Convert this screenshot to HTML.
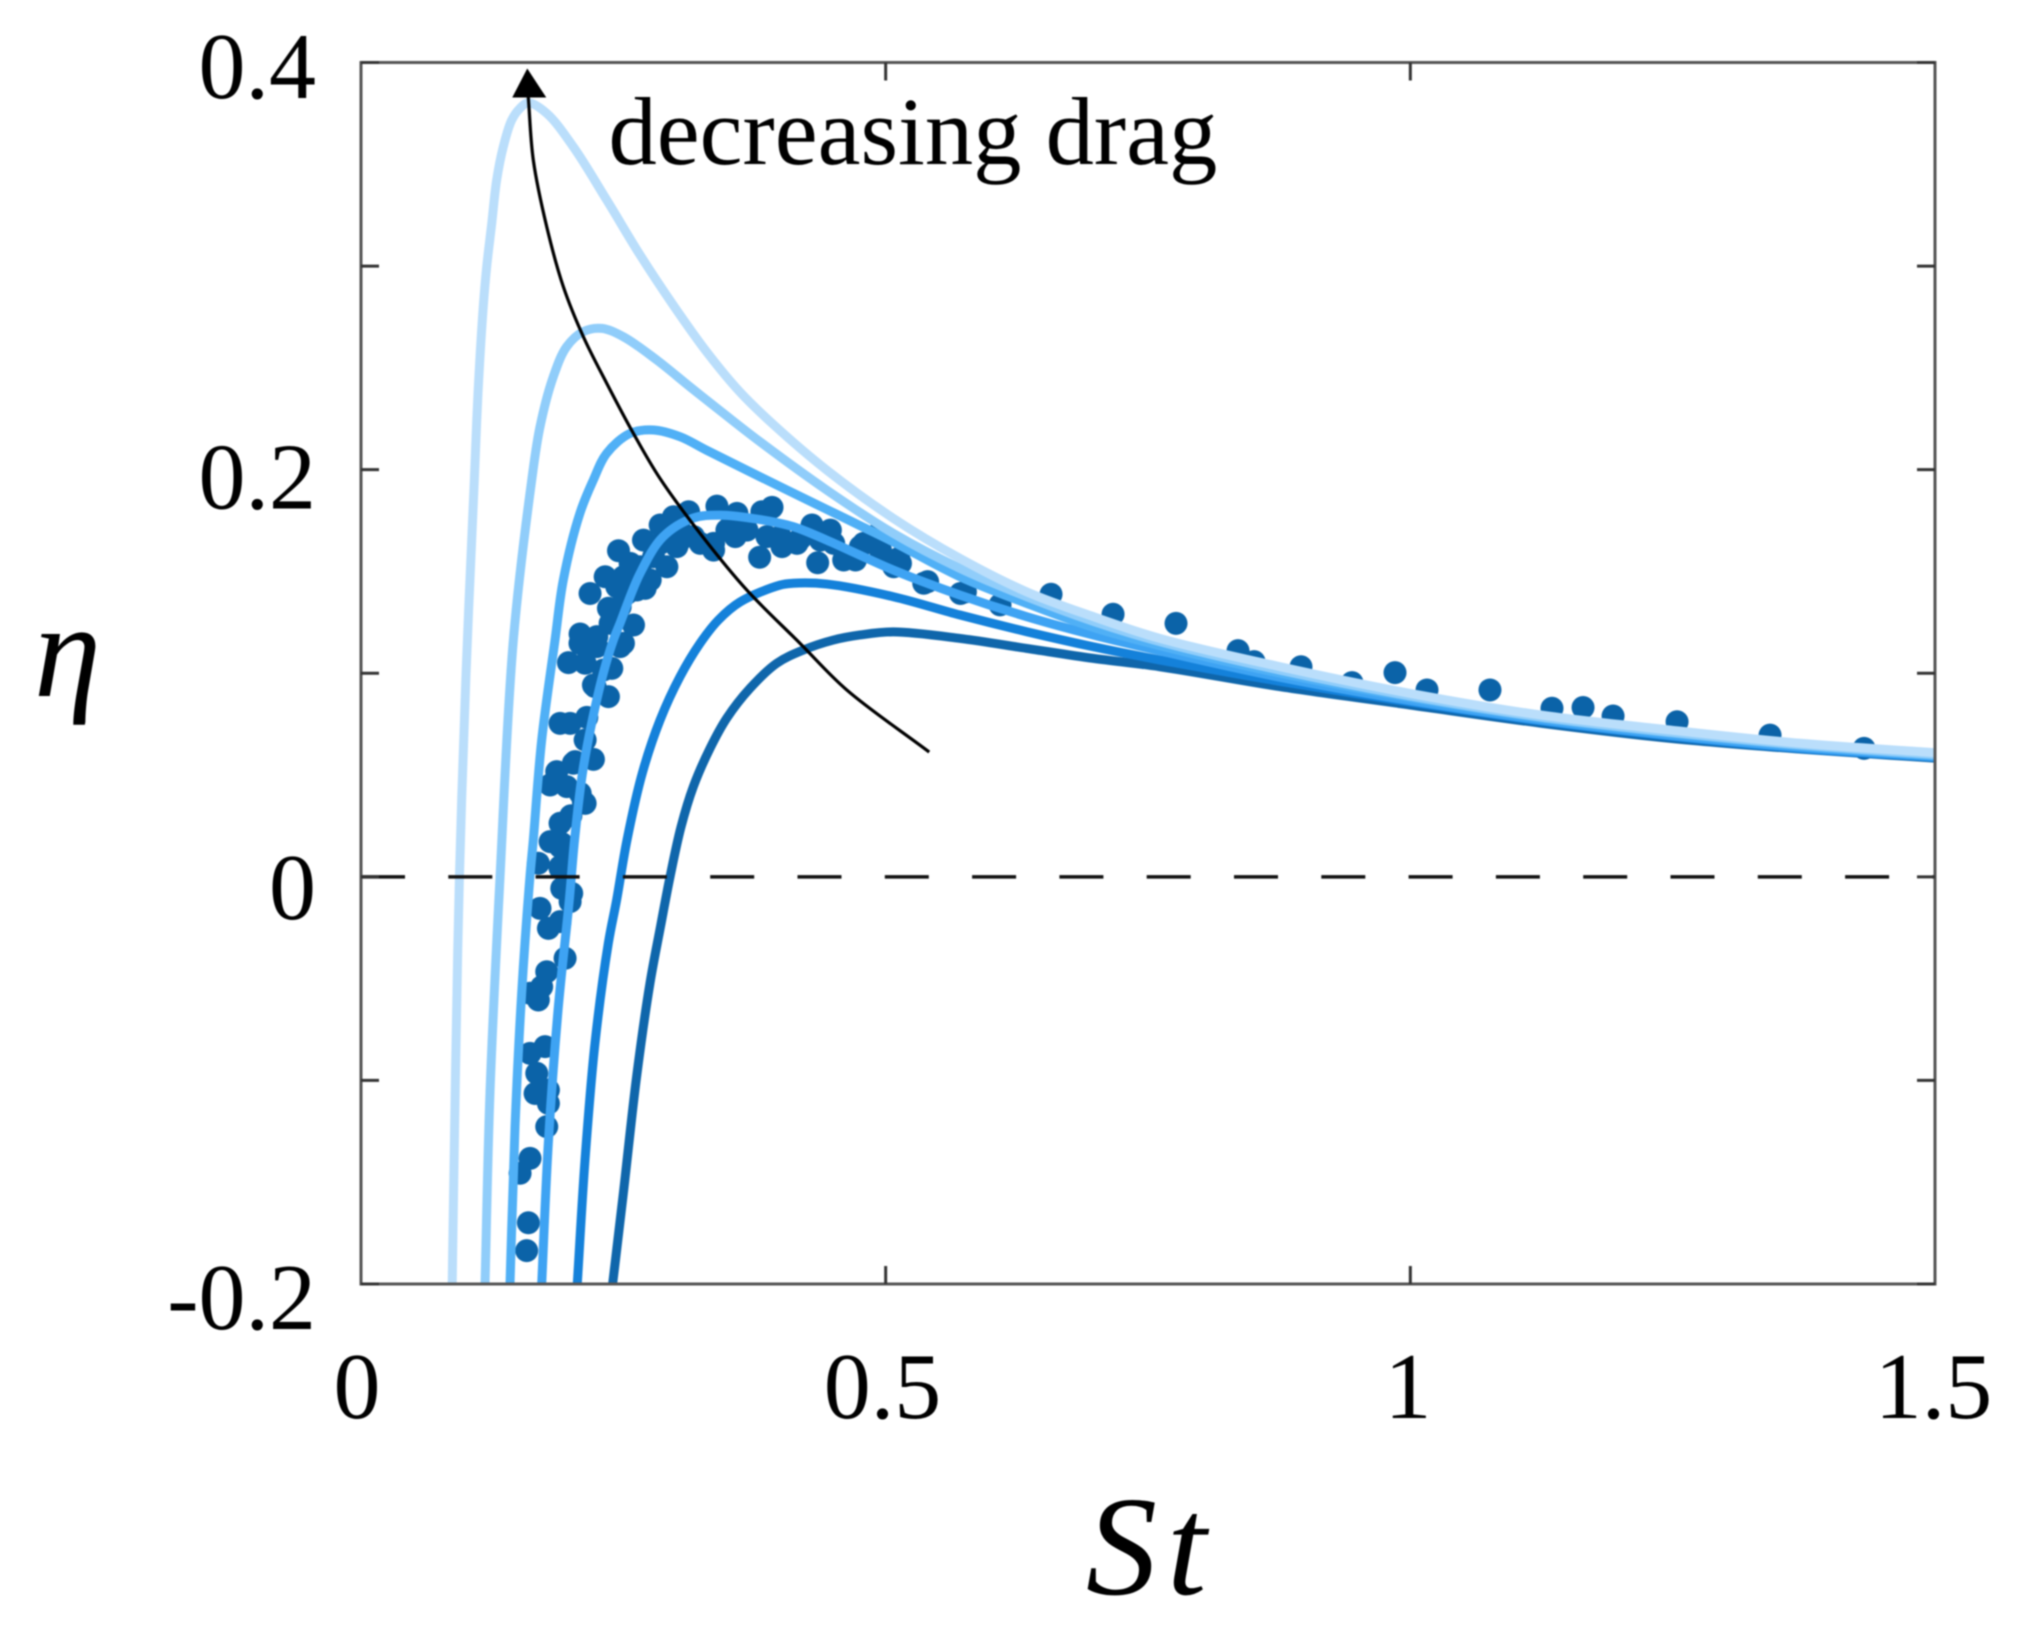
<!DOCTYPE html>
<html lang="en">
<head>
<meta charset="utf-8">
<title>Efficiency vs Strouhal number</title>
<style>
html,body{margin:0;padding:0;background:#fff;width:2040px;height:1632px;overflow:hidden}
svg{display:block;filter:blur(0.7px)}
text{font-family:"Liberation Serif",serif;fill:#000}
</style>
</head>
<body>
<svg id="chart" xmlns="http://www.w3.org/2000/svg" width="2040" height="1632" viewBox="0 0 2040 1632">
<rect x="0" y="0" width="2040" height="1632" fill="#fff"/>
<g id="dots"></g>
<g id="curves"></g>
<g id="axes"></g>
<g id="annotation"></g>
<text x="608.5" y="164" font-size="96.6">decreasing drag</text>
<text x="34" y="696" font-size="135" font-style="italic">η</text>
<text x="1086" y="1594" font-size="142" font-style="italic" letter-spacing="10">St</text>
</svg>
<script>
const xTicks = [0, 0.5, 1, 1.5];
const xTickLabels = ["0", "0.5", "1", "1.5"];
const xMinorTicks = [0.5, 1];
const yTicks = [-0.2, -0.1, 0, 0.1, 0.2, 0.3, 0.4];
const yLabelValues = [-0.2, 0, 0.2, 0.4];
const yTickLabels = ["-0.2", "0", "0.2", "0.4"];

const curve1St = [0.0869,0.0900,0.0938,0.1000,0.1080,0.1115,0.1165,0.1198,0.1246,0.1293,0.1356,0.1436,0.1515,0.1594,0.1770,0.2023,0.2341,0.2659,0.2976,0.3295,0.3612,0.3929,0.4438,0.5073,0.5709,0.6344,0.6979,0.7614,0.8760,1.0000,1.1240,1.2480,1.3720,1.5000];
const curve1Eta = [-0.2000,-0.0980,0.0000,0.0984,0.1949,0.2375,0.2800,0.2997,0.3210,0.3423,0.3586,0.3717,0.3775,0.3802,0.3750,0.3586,0.3325,0.3055,0.2808,0.2578,0.2381,0.2222,0.1998,0.1761,0.1564,0.1400,0.1278,0.1171,0.1032,0.0901,0.0795,0.0721,0.0656,0.0610];

const curve2St = [0.1182,0.1229,0.1325,0.1452,0.1627,0.1706,0.1833,0.1960,0.2119,0.2294,0.2500,0.2818,0.3135,0.3453,0.3803,0.4438,0.5073,0.5709,0.6344,0.6979,0.7614,0.8760,1.0000,1.1240,1.2480,1.3720,1.5000];
const curve2Eta = [-0.2000,-0.1064,0.0000,0.1163,0.1949,0.2211,0.2457,0.2604,0.2678,0.2694,0.2653,0.2539,0.2407,0.2277,0.2137,0.1900,0.1687,0.1515,0.1376,0.1255,0.1155,0.1015,0.0888,0.0785,0.0710,0.0648,0.0600];

const curve3St = [0.1420,0.1468,0.1531,0.1610,0.1642,0.1722,0.1849,0.1928,0.2087,0.2214,0.2341,0.2564,0.2786,0.3040,0.3295,0.3803,0.4438,0.4756,0.5073,0.5709,0.6344,0.6979,0.7614,0.8760,1.0000,1.1240,1.2480,1.3720,1.5000];
const curve3Eta = [-0.2000,-0.1227,-0.0573,0.0000,0.0181,0.0672,0.1163,0.1458,0.1787,0.1949,0.2080,0.2178,0.2195,0.2162,0.2095,0.1965,0.1805,0.1725,0.1645,0.1474,0.1343,0.1225,0.1135,0.1000,0.0880,0.0780,0.0705,0.0643,0.0595];

const curve4St = [0.1722,0.1785,0.1878,0.1985,0.2035,0.2110,0.2198,0.2309,0.2405,0.2469,0.2659,0.2878,0.3164,0.3420,0.3803,0.4120,0.4438,0.5073,0.5709,0.6344,0.6979,0.7614,0.8760,1.0000,1.1240,1.2480,1.3720,1.5000];
const curve4Eta = [-0.2000,-0.1310,-0.0654,-0.0114,0.0181,0.0508,0.0754,0.1000,0.1163,0.1246,0.1490,0.1670,0.1762,0.1777,0.1755,0.1720,0.1654,0.1507,0.1384,0.1278,0.1188,0.1110,0.0980,0.0865,0.0770,0.0695,0.0635,0.0590];

const curve5St = [0.2061,0.2135,0.2230,0.2357,0.2436,0.2535,0.2680,0.2850,0.3040,0.3231,0.3405,0.3612,0.3993,0.4120,0.4438,0.5073,0.5709,0.6344,0.6979,0.7614,0.8760,1.0000,1.1240,1.2480,1.3720,1.5000];
const curve5Eta = [-0.2000,-0.1390,-0.0817,-0.0326,-0.0114,0.0181,0.0508,0.0770,0.0983,0.1147,0.1261,0.1350,0.1433,0.1442,0.1438,0.1376,0.1286,0.1204,0.1130,0.1065,0.0960,0.0858,0.0765,0.0690,0.0630,0.0587];

const curve6St = [0.2398,0.2500,0.2627,0.2754,0.2854,0.2945,0.3050,0.3167,0.3326,0.3485,0.3707,0.3962,0.4215,0.4501,0.4756,0.5073,0.5709,0.6344,0.6979,0.7614,0.8760,1.0000,1.1240,1.2480,1.3720,1.5000];
const curve6Eta = [-0.2000,-0.1555,-0.0980,-0.0522,-0.0245,0.0000,0.0246,0.0443,0.0631,0.0779,0.0926,0.1049,0.1114,0.1163,0.1188,0.1203,0.1171,0.1122,0.1073,0.1032,0.0934,0.0844,0.0755,0.0680,0.0627,0.0583];

const dotSt = [0.3917,0.3820,0.3583,0.3392,0.3122,0.2978,0.2851,0.2692,0.2454,0.2327,0.2438,0.2183,0.2358,0.2708,0.2597,0.2501,0.2088,0.2247,0.1977,0.2136,0.2390,0.2231,0.2358,0.1897,0.1993,0.2152,0.2136,0.2215,0.2024,0.1865,0.1802,0.1961,0.2089,0.2136,0.1897,0.1802,0.1897,0.1690,0.1897,0.2915,0.2788,0.3010,0.3170,0.3360,0.3567,0.4012,0.3799,0.4187,0.4298,0.4473,0.4352,0.4600,0.4712,0.4791,0.4934,0.5077,0.5125,0.5363,0.5713,0.3519,0.3042,0.2565,0.2756,0.2533,0.5400,0.5760,0.6090,0.1897,0.1977,0.1993,0.1706,0.1786,0.1897,0.1945,0.1770,0.1722,0.1690,0.1611,0.1754,0.1611,0.1675,0.1659,0.1786,0.1786,0.1770,0.1611,0.1516,0.1595,0.1579,0.6576,0.7167,0.7767,0.8358,0.8511,0.8958,0.9444,0.9854,1.0159,1.0759,1.1350,1.1646,1.1932,1.2542,1.3428,1.4324,0.2215,0.2040,0.2119,0.1913,0.2008,0.1913,0.2087,0.2000,0.1950,0.2660,0.2851,0.3042,0.3233,0.3360,0.3487,0.3678,0.3869,0.3996,0.4155,0.4378,0.4505,0.4759,0.4950,0.5141,0.2501,0.2629,0.2470,0.2374,0.2247,0.2470,0.2310];
const dotEta = [0.1815,0.1793,0.1785,0.1821,0.1793,0.1769,0.1728,0.1654,0.1602,0.1474,0.1425,0.1392,0.1319,0.1417,0.1237,0.1147,0.1193,0.1180,0.1052,0.1049,0.1024,0.0934,0.0885,0.0754,0.0754,0.0783,0.0672,0.0577,0.0558,0.0517,0.0451,0.0443,0.0410,0.0361,0.0263,0.0173,0.0148,0.0067,0.0042,0.1523,0.1572,0.1622,0.1671,0.1638,0.1671,0.1622,0.1570,0.1662,0.1728,0.1703,0.1543,0.1556,0.1556,0.1638,0.1687,0.1523,0.1564,0.1442,0.1392,0.1720,0.1703,0.1540,0.1458,0.1392,0.1450,0.1400,0.1336,0.0050,-0.0081,-0.0122,-0.0155,-0.0253,-0.0220,-0.0400,-0.0466,-0.0540,-0.0605,-0.0572,-0.0834,-0.0867,-0.0965,-0.1064,-0.1047,-0.1113,-0.1227,-0.1383,-0.1456,-0.1699,-0.1836,0.1388,0.1290,0.1245,0.1111,0.1057,0.1032,0.0954,0.1003,0.0918,0.0918,0.0828,0.0832,0.0790,0.0762,0.0696,0.0631,0.0942,0.0566,0.0369,0.0164,-0.0081,-0.0057,0.1147,0.0300,0.0120,0.1523,0.1638,0.1654,0.1638,0.1605,0.1703,0.1703,0.1671,0.1671,0.1638,0.1654,0.1638,0.1622,0.1605,0.1540,0.1474,0.1409,0.1327,0.1245,0.1131,0.1131,0.1016];

const arrowSt = [0.5415,0.4629,0.4184,0.3676,0.3260,0.2849,0.2595,0.2342,0.2119,0.1928,0.1770,0.1642,0.1594];
const arrowEta = [0.0613,0.0918,0.1147,0.1409,0.1668,0.1957,0.2179,0.2424,0.2653,0.2899,0.3193,0.3521,0.3832];

const NS = "http://www.w3.org/2000/svg";
const plotLeft = 361, plotRight = 1935, plotTop = 62.5, plotBottom = 1284;
const xMin = 0, xMax = 1.5, yMin = -0.2, yMax = 0.4;
function xScale(v){ return plotLeft + (v - xMin) / (xMax - xMin) * (plotRight - plotLeft); }
function yScale(v){ return plotBottom - (v - yMin) / (yMax - yMin) * (plotBottom - plotTop); }
function xLabelCenter(v){ return 357 + v * 1051; }
function yLabelBaseline(v){ return 98 + (0.4 - v) * 2052; }

function smoothPath(stArr, etaArr){
  const p = stArr.map((s, i) => [xScale(s), yScale(etaArr[i])]);
  const n = p.length;
  const dt = [];
  for (let i = 0; i < n - 1; i++) {
    dt.push(Math.sqrt(Math.hypot(p[i + 1][0] - p[i][0], p[i + 1][1] - p[i][1])) || 1);
  }
  const tangent = [];
  for (let i = 0; i < n; i++) {
    if (i === 0) {
      tangent.push([(p[1][0] - p[0][0]) / dt[0], (p[1][1] - p[0][1]) / dt[0]]);
    } else if (i === n - 1) {
      tangent.push([(p[i][0] - p[i - 1][0]) / dt[i - 1], (p[i][1] - p[i - 1][1]) / dt[i - 1]]);
    } else {
      const d0 = dt[i - 1], d1 = dt[i];
      tangent.push([0, 1].map(k =>
        (p[i][k] - p[i - 1][k]) / d0 - (p[i + 1][k] - p[i - 1][k]) / (d0 + d1) + (p[i + 1][k] - p[i][k]) / d1
      ));
    }
  }
  let d = "M" + p[0][0].toFixed(2) + " " + p[0][1].toFixed(2);
  for (let i = 0; i < n - 1; i++) {
    const c1x = p[i][0] + tangent[i][0] * dt[i] / 3, c1y = p[i][1] + tangent[i][1] * dt[i] / 3;
    const c2x = p[i + 1][0] - tangent[i + 1][0] * dt[i] / 3, c2y = p[i + 1][1] - tangent[i + 1][1] * dt[i] / 3;
    d += "C" + c1x.toFixed(2) + " " + c1y.toFixed(2) + " " + c2x.toFixed(2) + " " + c2y.toFixed(2) + " " + p[i + 1][0].toFixed(2) + " " + p[i + 1][1].toFixed(2);
  }
  return d;
}

const dotsGroup = document.getElementById("dots");
dotSt.forEach((s, i) => {
  const el = document.createElementNS(NS, "circle");
  
  
  el.setAttribute("cx", xScale(s));
  el.setAttribute("cy", yScale(dotEta[i]));
  el.setAttribute("r", 11.5);
  el.setAttribute("fill", "#0b63a8");
  dotsGroup.appendChild(el);
});

const curvesGroup = document.getElementById("curves");
function addCurve(name, stArr, etaArr, color){
  const el = document.createElementNS(NS, "path");
  
  
  el.setAttribute("d", smoothPath(stArr, etaArr));
  el.setAttribute("fill", "none");
  el.setAttribute("stroke", color);
  el.setAttribute("stroke-width", 9);
  curvesGroup.appendChild(el);
}
addCurve('curve-highest-drag', curve6St, curve6Eta, "#0f66ab");
addCurve('curve-high-drag', curve5St, curve5Eta, "#1481da");
addCurve('curve-medium-drag', curve4St, curve4Eta, "#3ea3f3");
addCurve('curve-medium-low-drag', curve3St, curve3Eta, "#50b0f6");
addCurve('curve-low-drag', curve2St, curve2Eta, "#90cdfa");
addCurve('curve-lowest-drag', curve1St, curve1Eta, "#badefb");

const axesGroup = document.getElementById("axes");
const zeroLine = document.createElementNS(NS, "line");


zeroLine.setAttribute("x1", xScale(0));
zeroLine.setAttribute("x2", xScale(1.5));
zeroLine.setAttribute("y1", yScale(0));
zeroLine.setAttribute("y2", yScale(0));
zeroLine.setAttribute("stroke", "#111");
zeroLine.setAttribute("stroke-width", 3.5);
zeroLine.setAttribute("stroke-dasharray", "44 43.3");
axesGroup.appendChild(zeroLine);

const frame = document.createElementNS(NS, "rect");


frame.setAttribute("x", plotLeft);
frame.setAttribute("y", plotTop);
frame.setAttribute("width", plotRight - plotLeft);
frame.setAttribute("height", plotBottom - plotTop);
frame.setAttribute("fill", "none");
frame.setAttribute("stroke", "#555");
frame.setAttribute("stroke-width", 3);
axesGroup.appendChild(frame);

function addTick(name, x1, y1, x2, y2){
  const el = document.createElementNS(NS, "line");
  
  
  el.setAttribute("x1", x1);
  el.setAttribute("y1", y1);
  el.setAttribute("x2", x2);
  el.setAttribute("y2", y2);
  el.setAttribute("stroke", "#333");
  el.setAttribute("stroke-width", 3);
  axesGroup.appendChild(el);
}
const tickLen = 18;
xMinorTicks.forEach(v => {
  addTick('x-tick-bottom', xScale(v), plotBottom, xScale(v), plotBottom - tickLen);
  addTick('x-tick-top', xScale(v), plotTop, xScale(v), plotTop + tickLen);
});
yTicks.forEach(v => {
  addTick('y-tick-left', plotLeft, yScale(v), plotLeft + tickLen, yScale(v));
  addTick('y-tick-right', plotRight, yScale(v), plotRight - tickLen, yScale(v));
});

xTicks.forEach((v, i) => {
  const el = document.createElementNS(NS, "text");
  
  
  el.setAttribute("x", xLabelCenter(v));
  el.setAttribute("y", 1418);
  el.setAttribute("font-size", 94);
  el.setAttribute("text-anchor", "middle");
  el.textContent = xTickLabels[i];
  axesGroup.appendChild(el);
});
yLabelValues.forEach((v, i) => {
  const el = document.createElementNS(NS, "text");
  
  
  el.setAttribute("x", 316);
  el.setAttribute("y", yLabelBaseline(v));
  el.setAttribute("font-size", 94);
  el.setAttribute("text-anchor", "end");
  el.textContent = yTickLabels[i];
  axesGroup.appendChild(el);
});

const annotationGroup = document.getElementById("annotation");
const arrowLine = document.createElementNS(NS, "path");


arrowLine.setAttribute("d", smoothPath(arrowSt, arrowEta));
arrowLine.setAttribute("fill", "none");
arrowLine.setAttribute("stroke", "#000");
arrowLine.setAttribute("stroke-width", 3.2);
annotationGroup.appendChild(arrowLine);

const tipX = xScale(0.1594), tipY = yScale(0.4);
const arrowHead = document.createElementNS(NS, "polygon");


arrowHead.setAttribute("points", (tipX - 1) + "," + (tipY + 6) + " " + (tipX - 16) + "," + (tipY + 35) + " " + (tipX + 18) + "," + (tipY + 35));
arrowHead.setAttribute("fill", "#000");
annotationGroup.appendChild(arrowHead);
</script>
</body>
</html>
